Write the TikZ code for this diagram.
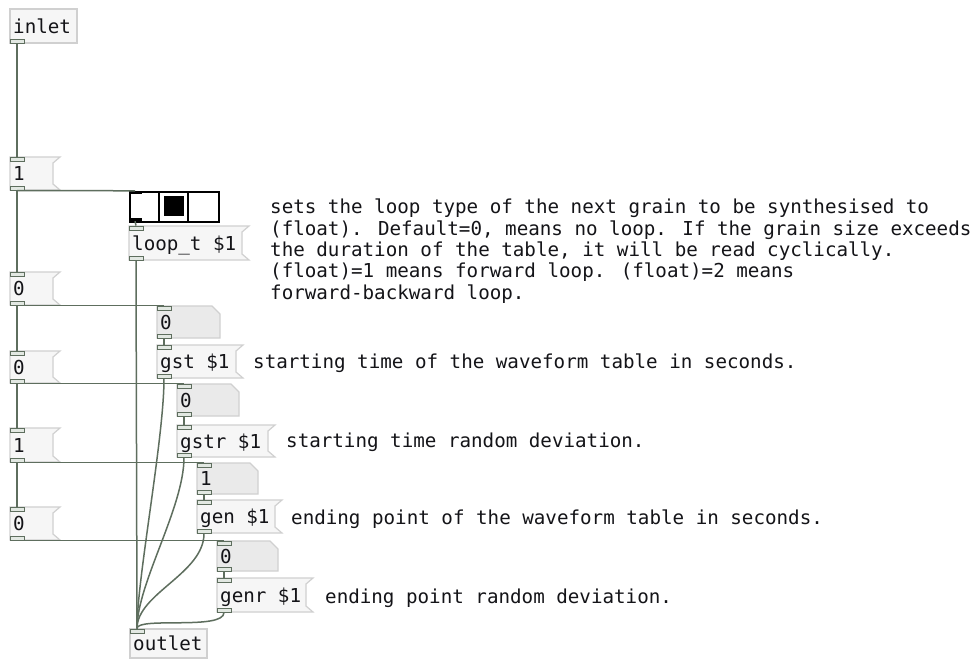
\documentclass[tikz,border=0pt]{standalone}
\usepackage{fontspec}
\newfontfamily\pdfont{DejaVu Sans Mono}
\definecolor{cordc}{HTML}{5E6E5E}
\definecolor{msgfill}{HTML}{F6F6F6}
\definecolor{msgline}{HTML}{D0D0D0}
\definecolor{nbxfill}{HTML}{EAEAEA}
\definecolor{iofill}{HTML}{E2E8E2}
\definecolor{txt}{HTML}{141418}
\tikzset{
  cord/.style={draw=cordc, line width=1.5pt},
  msgshape/.style={fill=msgfill, draw=msgline, line width=1.2pt},
  nbxshape/.style={fill=nbxfill, draw=msgline, line width=1.2pt},
  iolet/.style={rectangle, draw=cordc, fill=iofill, line width=1pt, minimum width=14pt, minimum height=4pt, inner sep=0},
  radioio/.style={rectangle, fill=black, minimum width=13pt, minimum height=3pt, inner sep=0},
  boxtext/.style={anchor=west, inner sep=0, text height=14pt, text depth=4pt, font=\pdfont\fontsize{19.2}{21.3}\selectfont, text=txt},
  commenttext/.style={inner sep=0, font=\pdfont\fontsize{19.2}{21.3}\selectfont, text=txt},
}
\newcommand\pdio[4]{%
  \node[iolet] (#1-in) at ({#2+7},{#3+2}) {};
  \node[iolet] (#1-out) at ({#2+7},{#3+#4-2}) {};
}
\newcommand\pdmsg[6]{%
  \path[msgshape] (#2,#3) -- ({#2+#4},#3) -- ({#2+#4-7},{#3+6}) -- ({#2+#4-7},{#3+#5-6}) -- ({#2+#4},{#3+#5}) -- (#2,{#3+#5}) -- cycle;
  \node[boxtext] (#1) at ({#2+3},{#3+#5/2+2}) {#6};
  \pdio{#1}{#2}{#3}{#5}
}
\newcommand\pdnbx[6]{%
  \path[nbxshape] (#2,#3) -- ({#2+#4-8},#3) -- ({#2+#4},{#3+8}) -- ({#2+#4},{#3+#5}) -- (#2,{#3+#5}) -- cycle;
  \node[boxtext] (#1) at ({#2+3},{#3+#5/2+2}) {#6};
  \pdio{#1}{#2}{#3}{#5}
}
\newcommand\pdobj[6]{%
  \path[msgshape] (#2,#3) rectangle ({#2+#4},{#3+#5});
  \node[boxtext] (#1) at ({#2+3},{#3+#5/2+2}) {#6};
}
\begin{document}
\begin{tikzpicture}[x=1pt,y=-1pt]
\useasboundingbox[fill=white] (0,0) rectangle (973,659);

% objects
\pdobj{inletobj}{10}{9}{67}{34}{inlet}
\node[iolet] (inletobj-out) at (17,41) {};
\pdmsg{m1}{10}{157}{50}{33}{1}

\node[rectangle, draw=black, fill=white, line width=2pt, minimum width=89pt, minimum height=30pt, inner sep=0, anchor=north west] (radio) at (129,191) {};
\draw[black, line width=2pt] (159,191) -- (159,221) (188,191) -- (188,221);
\fill[black] (164,196) rectangle (184,216);
\node[radioio] (radio-in) at (135,192.5) {};
\node[radioio] (radio-out) at (135,219.5) {};

\pdmsg{loopt}{129}{226}{120}{34}{loop\_t \$1}
\pdmsg{m2}{10}{272}{50}{33}{0}
\pdnbx{n1}{157}{306}{63}{32}{0}
\pdmsg{gst}{157}{345}{86}{33}{gst \$1}
\pdmsg{m3}{10}{351}{50}{32}{0}
\pdnbx{n2}{177}{384}{62}{32}{0}
\pdmsg{gstr}{177}{425}{98}{32}{gstr \$1}
\pdmsg{m4}{10}{428}{50}{34}{1}
\pdnbx{n3}{197}{463}{61}{31}{1}
\pdmsg{gen}{197}{500}{85}{33}{gen \$1}
\pdmsg{m5}{10}{507}{50}{33}{0}
\pdnbx{n4}{217}{541}{61}{30}{0}
\pdmsg{genr}{217}{578}{96}{34}{genr \$1}
\pdobj{outletobj}{130}{629}{77}{29}{outlet}
\node[iolet] (outletobj-in) at (137,631) {};

% comments
\node[commenttext, anchor=north west, align=left] (c1) at (270,199)
  {sets the loop type of the next grain to be synthesised to\\
   (float). Default=0, means no loop. If the grain size exceeds\\
   the duration of the table, it will be read cyclically.\\
   (float)=1 means forward loop. (float)=2 means\\
   forward-backward loop.};
\node[boxtext] (c2) at (253,363) {starting time of the waveform table in seconds.};
\node[boxtext] (c3) at (286,442) {starting time random deviation.};
\node[boxtext] (c4) at (291,519) {ending point of the waveform table in seconds.};
\node[boxtext] (c5) at (325,598) {ending point random deviation.};

% cords
\draw[cord] (inletobj-out.south) -- (m1-in.north);
\draw[cord] (m1-out.south) -- (m2-in.north);
\draw[cord] (m2-out.south) -- (m3-in.north);
\draw[cord] (m3-out.south) -- (m4-in.north);
\draw[cord] (m4-out.south) -- (m5-in.north);
\draw[cord] (m1-out.south) -- (radio-in.north);
\draw[cord] (radio-out.south) -- (loopt-in.north);
\draw[cord] (m2-out.south) -- (n1-in.north);
\draw[cord] (n1-out.south) -- (gst-in.north);
\draw[cord] (m3-out.south) -- (n2-in.north);
\draw[cord] (n2-out.south) -- (gstr-in.north);
\draw[cord] (m4-out.south) -- (n3-in.north);
\draw[cord] (n3-out.south) -- (gen-in.north);
\draw[cord] (m5-out.south) -- (n4-in.north);
\draw[cord] (n4-out.south) -- (genr-in.north);
\draw[cord] (loopt-out.south) -- (outletobj-in.north);
\draw[cord] (gst-out.south) .. controls +(0,60) and +(0,-50) .. (outletobj-in.north);
\draw[cord] (gstr-out.south) .. controls +(0,50) and +(0,-45) .. (outletobj-in.north);
\draw[cord] (gen-out.south) .. controls +(0,40) and +(0,-35) .. (outletobj-in.north);
\draw[cord] (genr-out.south) .. controls +(0,18) and +(0,-12) .. (outletobj-in.north);
\end{tikzpicture}
\end{document}
